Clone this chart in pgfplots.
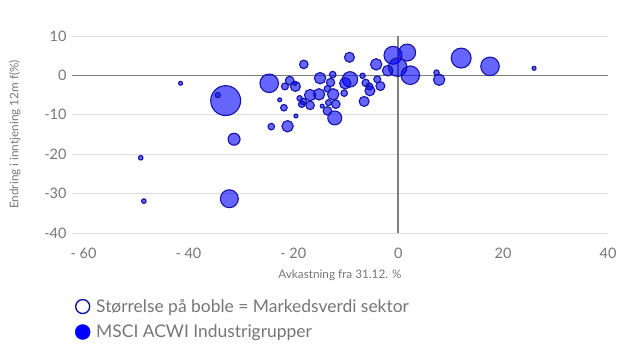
\documentclass[border=0pt]{standalone}
\usepackage{fontspec}
\setmainfont{Lato}
\usepackage{pgfplots}
\pgfplotsset{compat=1.18}
\definecolor{txt}{HTML}{767676}
\definecolor{gridc}{HTML}{DDDDDD}
\definecolor{zeroc}{HTML}{808080}
\definecolor{edgec}{HTML}{1414A8}
\definecolor{fillc}{HTML}{0000FF}
\pgfplotstableread{
x y r
25.9 1.8 2
12.0 4.4 10
17.5 2.3 9.3
7.3 0.7 2.7
7.8 -1.1 5.7
-1.0 5.1 9
1.7 5.8 8.5
-0.1 2.1 9.3
2.3 0.05 9.3
-2.0 1.2 5.3
-4.2 2.8 5.7
-9.3 4.6 5
-18.0 2.8 4.3
-14.9 -0.7 5.7
-12.5 0.2 3.3
-12.9 -1.8 4.2
-9.2 -1.0 7.7
-10.1 -2.0 5.7
-10.3 -4.5 3.3
-6.8 -0.1 2.7
-6.2 -1.9 3.7
-5.5 -2.8 3.5
-5.4 -3.9 5
-4.0 -1.0 3.5
-3.4 -2.7 4.5
-6.5 -6.6 5
-19.6 -2.8 5
-19.7 -2.0 2
-16.8 -5.0 5.7
-15.1 -4.8 5.7
-12.4 -4.8 5.7
-13.5 -3.4 3.3
-11.9 -7.3 4.3
-13.3 -6.9 3
-14.5 -7.8 2
-13.5 -9.0 4.3
-12.1 -10.8 7
-18.8 -5.8 2.7
-18.1 -6.6 3.3
-16.8 -7.6 4.3
-18.4 -7.3 3.3
-19.5 -10.3 2
-24.6 -2.0 9.3
-20.7 -1.3 4.3
-21.6 -2.8 3.5
-22.6 -6.2 2
-21.8 -8.2 3.3
-24.2 -13.0 3.3
-21.1 -12.9 5.7
-41.5 -2.0 2
-32.9 -6.4 15
-34.4 -5.0 2.7
-31.3 -16.2 6
-49.1 -20.9 2.3
-48.5 -31.9 2.3
-32.2 -31.3 9
}\bubbles
\begin{document}
\begin{tikzpicture}[x=1bp,y=1bp]
\path[use as bounding box] (0,0) rectangle (640,-360);
\begin{axis}[
  at={(72bp,-233bp)}, anchor=south west,
  scale only axis, width=536bp, height=197bp,
  xmin=-62.2, xmax=40, ymin=-40, ymax=10,
  axis line style={draw=none},
  tick style={draw=none},
  ymajorgrids, grid style={gridc, line width=1bp},
  xtick={-60,-40,-20,0,20,40},
  xticklabels={- 60,- 40,- 20,0,20,40},
  ytick={-40,-30,-20,-10,0,10},
  yticklabels={-40,-30,-20,-10,0,10},
  ticklabel style={font=\fontsize{14.5}{16}\selectfont, text=txt},
  xticklabel style={yshift=-12bp},
  yticklabel style={xshift=-2bp},
  xlabel={Avkastning fra 31.12. \%},
  ylabel={Endring i inntjening 12m f(\%)},
  label style={font=\fontsize{11.8}{13}\selectfont, text=txt},
  xlabel style={yshift=-4bp},
  ylabel style={yshift=17bp},
  clip=false,
  legend style={at={(0.0,-0.315)}, anchor=north west, draw=none, fill=none,
    font=\fontsize{17.5}{20}\selectfont, text=txt, row sep=7bp,
    nodes={inner xsep=6bp}},
  legend cell align=left,
]
\draw[zeroc, line width=1.5bp] (axis cs:-62.2,0) -- (axis cs:40,0);
\draw[zeroc, line width=1.5bp] (axis cs:0,-40) -- (axis cs:0,10);
\addplot[only marks, mark=*, draw=edgec, fill=fillc,
  scatter,
  scatter/use mapped color={draw=edgec, fill=fillc},
  visualization depends on={\thisrow{r} \as \perpointmarksize},
  scatter/@pre marker code/.append style={/tikz/mark size=\perpointmarksize},
  mark options={fill opacity=0.6, line width=1.1bp},
  forget plot] table[x=x,y=y] {\bubbles};
\addlegendimage{only marks, mark=*, mark size=7bp, mark options={draw=edgec, fill=white, line width=1.4bp}}
\addlegendentry{Størrelse på boble = Markedsverdi sektor}
\addlegendimage{only marks, mark=*, mark size=7.5bp, mark options={draw=fillc, fill=fillc}}
\addlegendentry{MSCI ACWI Industrigrupper}
\end{axis}
\end{tikzpicture}
\end{document}
